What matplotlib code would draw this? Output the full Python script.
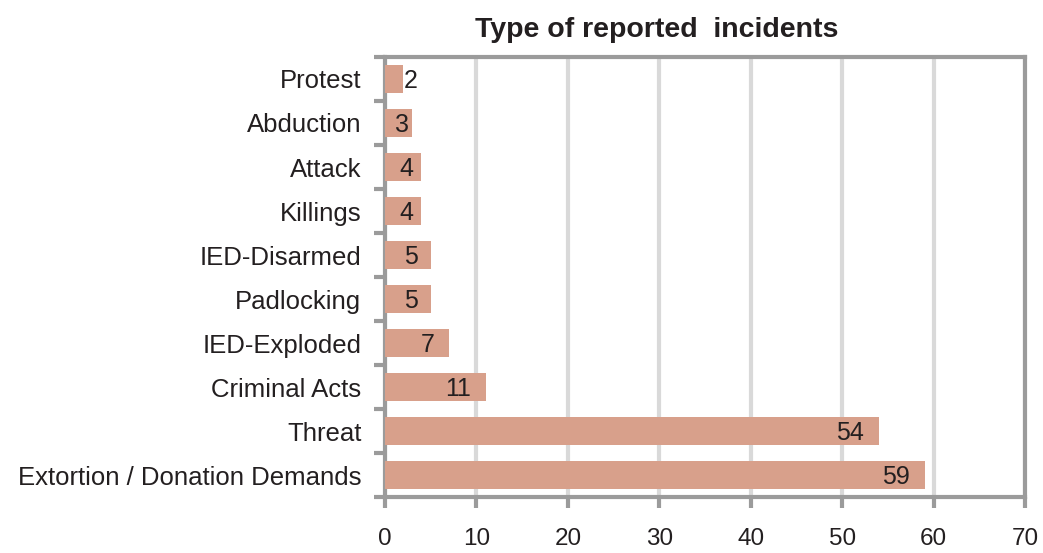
import matplotlib

matplotlib.use("Agg")
import matplotlib.pyplot as plt
import numpy as np

categories = ["Extortion / Donation Demands", "Threat", "Criminal Acts", "IED-Exploded",
              "Padlocking", "IED-Disarmed", "Killings", "Attack", "Abduction", "Protest"]
values = [59, 54, 11, 7, 5, 5, 4, 4, 3, 2]
xticks = [0, 10, 20, 30, 40, 50, 60, 70]

plt.rcParams["font.family"] = ["Liberation Sans", "DejaVu Sans"]

BAR = "#D8A08B"
SPINE = "#9B9B9B"
GRID = "#D9D9D9"
TEXT = "#231F20"

fig = plt.figure(figsize=(10.43, 5.53), dpi=100)
ax = fig.add_axes([0.369, 0.101, 0.614, 0.796])

y = np.arange(len(categories))
ax.barh(y, values, height=0.63, color=BAR, zorder=3)

for yi, v in zip(y, values):
    if v < 3:
        ax.text(v + 0.1, yi - 0.05, str(v), ha="left", va="center", fontsize=18, color=TEXT, zorder=4)
    elif v <= 5:
        ax.text(v / 2 + 0.4, yi - 0.05, str(v), ha="center", va="center", fontsize=18, color=TEXT, zorder=4)
    else:
        ax.text(v - 1.6, yi - 0.05, str(v), ha="right", va="center", fontsize=18, color=TEXT, zorder=4)

ax.set_xlim(0, 70)
ax.set_ylim(-0.5, len(categories) - 0.5)
ax.set_xticks(xticks)
ax.set_xticklabels([str(t) for t in xticks], fontsize=17.5, color=TEXT)
ax.set_yticks(y)
ax.set_yticklabels(categories, fontsize=18.5, color=TEXT)
ax.set_yticks(np.arange(-0.5, len(categories), 1.0), minor=True)

ax.tick_params(axis="y", which="major", length=0, pad=17)
ax.tick_params(axis="y", which="minor", length=8, width=3, color=SPINE, direction="out")
ax.tick_params(axis="x", which="major", length=8, width=3, color=SPINE, direction="out", pad=14)

ax.xaxis.grid(True, color=GRID, linewidth=3, zorder=0)
ax.set_axisbelow(True)
for s in ax.spines.values():
    s.set_color(SPINE)
    s.set_linewidth(3)

fig.text(0.63, 0.945, "Type of reported  incidents", ha="center", va="center",
         fontsize=20.5, fontweight="bold", color=TEXT)

fig.savefig("out.png", dpi=100)
